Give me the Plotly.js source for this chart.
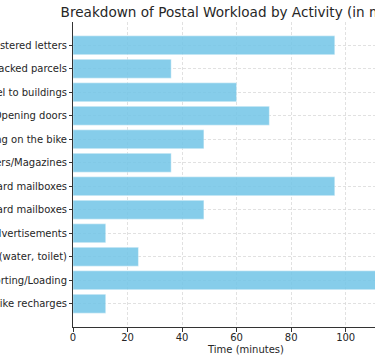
<!DOCTYPE html>
<html><head><meta charset="utf-8">
<script src="https://cdn.plot.ly/plotly-3.0.1.min.js"></script>
<style>html,body{margin:0;padding:0;background:#fff;overflow:hidden}#chart{width:375px;height:361px}</style>
</head><body><div id="chart"></div>
<script>
// categories listed bottom to top (as drawn)
const activities = [
  "Bike recharges",
  "Sorting/Loading",
  "Breaks (water, toilet)",
  "Advertisements",
  "Courtyard mailboxes",
  "Standard mailboxes",
  "Newspapers/Magazines",
  "Riding on the bike",
  "Opening doors",
  "Travel to buildings",
  "Tracked parcels",
  "Registered letters"
];
const minutes = [12, 120, 24, 12, 48, 96, 36, 48, 72, 60, 36, 96];
const xTicks = [0, 20, 40, 60, 80, 100];

const font = "DejaVu Sans, sans-serif";
const trace = {
  type: "bar",
  orientation: "h",
  x: minutes,
  y: activities,
  width: 0.8,
  marker: {color: "rgb(114,197,231)", opacity: 0.85, line: {color: "rgba(255,255,255,0.5)", width: 0.8}},
  hoverinfo: "x+y"
};
const layout = {
  width: 375, height: 361,
  margin: {l: 73, r: 0, t: 22, b: 34, pad: 0},
  paper_bgcolor: "#fff", plot_bgcolor: "#fff",
  showlegend: false,
  font: {family: font, size: 10, color: "#262626"},
  title: {text: "Breakdown of Postal Workload by Activity (in minutes)", font: {family: font, size: 13.6, color: "#262626"},
          xref: "container", x: 245/375, xanchor: "center", yref: "container", y: 1 - 12/361, yanchor: "middle"},
  xaxis: {
    range: [0, 110.75], tickvals: xTicks, ticktext: xTicks.map(String),
    showgrid: true, gridcolor: "#d9d9d9", griddash: "3px,2px", gridwidth: 0.8,
    zeroline: false, showline: true, linecolor: "#333", linewidth: 1,
    ticks: "outside", ticklen: 3.5, tickcolor: "#333", tickfont: {family: font, size: 10, color: "#262626"},
    ticklabelstandoff: -3,
    automargin: false, fixedrange: true
  },
  yaxis: {
    type: "category", range: [-0.99, 11.99],
    showgrid: true, gridcolor: "#d9d9d9", griddash: "3px,2px", gridwidth: 0.8,
    zeroline: false, showline: true, linecolor: "#333", linewidth: 1,
    ticks: "outside", ticklen: 3, tickcolor: "#333", tickfont: {family: font, size: 10, color: "#262626"},
    automargin: false, fixedrange: true
  },
  annotations: [{
    text: "Time (minutes)", showarrow: false,
    xref: "paper", x: (245 - 73) / 302, xanchor: "center",
    yref: "paper", y: -(349 - 327) / 305, yanchor: "middle",
    font: {family: font, size: 10, color: "#262626"}
  }],
  bargap: 0.2
};
Plotly.newPlot("chart", [trace], layout, {displayModeBar: false, staticPlot: true});
</script></body></html>
